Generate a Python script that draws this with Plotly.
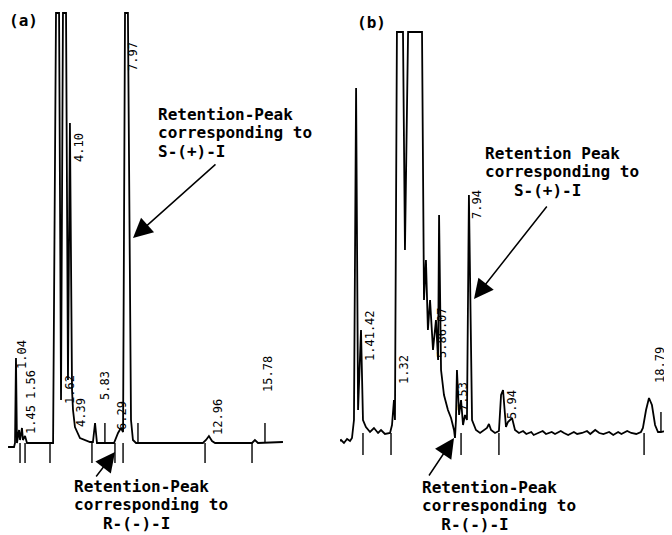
import plotly.graph_objects as go

# ---------------- data: chromatogram (a) ----------------
time_a = [0.62, 0.99, 1.05, 1.11, 1.17, 1.30, 1.36, 1.48, 1.54, 1.67, 1.79, 3.40,
          3.58, 3.77, 3.89, 4.01, 4.20, 4.32, 4.44, 4.57, 4.63, 4.75, 5.06, 5.68,
          5.86, 5.99, 6.11, 7.16, 7.41, 7.59, 7.72, 7.84, 8.02, 8.21, 8.33, 8.52,
          12.65, 12.84, 13.02, 13.21, 13.40, 15.68, 15.86, 16.05, 17.59]
signal_a = [-4, -4, 0, 85, 0, 13, 3, 15, 3, 7, 0, 0,
            430, 430, 43, 430, 430, 63, 320, 53, 33, 16, 5, 1,
            1, 20, 0, 0, 10, 15, 11, 430, 430, 23, 3, 0,
            0, 3, 7, 2, 0, 0, 3, 0, 1]
ticks_a = [1.36, 1.67, 3.21, 5.80, 7.22, 7.72, 12.78, 15.68]
markers_a = [6.60, 8.64, 16.48]

# ---------------- data: chromatogram (b) ----------------
time_b = [-0.18, 0.00, 0.18, 0.37, 0.55, 0.67, 0.79, 0.92, 1.04, 1.22, 1.34, 1.46,
          1.52, 1.77, 2.01, 2.26, 2.44, 2.68, 2.99, 3.11, 3.23, 3.29, 3.41, 3.78,
          3.90, 4.09, 4.94, 5.06, 5.18, 5.30, 5.43, 5.61, 5.79, 5.92, 5.98, 6.10,
          6.28, 6.52, 6.71, 6.89, 6.95, 7.01, 7.07, 7.20, 7.32, 7.44, 7.56, 7.68,
          7.80, 7.99, 8.23, 8.48, 8.72, 8.90, 9.02, 9.15, 9.39, 9.63, 9.76, 9.88,
          10.06, 10.18, 10.43, 10.61, 10.85,
          11.10, 11.30, 11.60, 11.75, 12.05, 12.30, 12.50, 12.85, 13.05, 13.40,
          13.60, 13.85, 14.20, 14.40, 14.70, 15.00, 15.20, 15.50, 15.75, 16.00,
          16.35, 16.60, 16.90, 17.10, 17.45, 17.70, 18.00,
          18.29, 18.41, 18.60, 18.78, 18.96, 19.15, 19.33, 19.51, 19.76, 20.12]
signal_b = [-9, -7, -10, -6, -8, -5, 13, 345, 23, 103, 13, 8,
            6, 1, 5, 0, 3, -1, 0, 8, 33, 13, 401, 401,
            183, 401, 401, 133, 173, 103, 133, 83, 113, 73, 218, 63,
            38, 23, 15, 3, -5, 13, 63, 18, 33, 8, 18, 13,
            238, 13, 3, 0, 3, 5, 9, 3, 0, 2, 38, 43,
            6, 11, 15, 3, 0,
            2, -1, 1, -2, 0, 2, -1, 1, -1, 2,
            0, -2, 1, -1, 0, 2, -1, 3, 0, -1,
            1, -2, 1, -1, 2, 0, -1,
            1, 5, 23, 35, 28, 8, 1, 1, 2, 3]
ticks_b = [1.34, 3.05, 7.32, 9.63, 18.48]
markers_b = [19.51]

# retention-time labels printed by the integrator
labels_a = ["1.04", "1.56", "1.45", "1.62", "4.10", "4.39", "5.83", "6.29", "7.97", "12.96", "15.78"]
labels_b = ["1.41.42", "1.32", "5.86.07", "7.53", "7.94", "5.94", "18.79"]

# ---------------- layout helpers ----------------
OFF = 8                      # default page margin of the html body
W, H = 672 - OFF, 535 - OFF  # figure size so that it fits the window
label_pos_a = [(22, 354), (31, 385), (31, 420), (70, 390), (79, 148), (81, 413),
               (105, 386), (122, 416), (133, 57), (218, 417), (268, 374)]
label_pos_b = [(370, 336), (404, 370), (442, 333), (463, 397), (477, 205), (512, 405), (660, 365)]


def P(px, py):
    return (px - OFF) / W, 1 - (py - OFF) / H


def seg_trace(times, lo, hi, xa, ya):
    xs, ys = [], []
    for t in times:
        xs += [t, t, None]
        ys += [lo, hi, None]
    return go.Scatter(x=xs, y=ys, mode="lines", xaxis=xa, yaxis=ya,
                      line=dict(color="black", width=1.4), hoverinfo="skip", showlegend=False)


fig = go.Figure()
fig.add_trace(go.Scatter(x=time_a, y=signal_a, mode="lines", xaxis="x", yaxis="y",
                         line=dict(color="black", width=1.8), showlegend=False))
fig.add_trace(seg_trace(ticks_a, -20, 0, "x", "y"))
fig.add_trace(seg_trace(markers_a, 0, 20, "x", "y"))
fig.add_trace(go.Scatter(x=time_b, y=signal_b, mode="lines", xaxis="x2", yaxis="y2",
                         line=dict(color="black", width=1.8), showlegend=False))
fig.add_trace(seg_trace(ticks_b, -22, 0, "x2", "y2"))
fig.add_trace(seg_trace(markers_b, 1, 21, "x2", "y2"))

MONO = "DejaVu Sans Mono"
ann = []

for txt, (px, py) in zip(labels_a + labels_b, label_pos_a + label_pos_b):
    x, y = P(px, py)
    ann.append(dict(x=x, y=y, xref="paper", yref="paper", text=txt, showarrow=False,
                    textangle=-90, font=dict(family=MONO, size=12, color="black"),
                    xanchor="center", yanchor="middle", borderpad=0))

# panel tags
for txt, (px, py) in [("(a)", (23, 21)), ("(b)", (371, 22))]:
    x, y = P(px, py)
    ann.append(dict(x=x, y=y, xref="paper", yref="paper", text="<b>%s</b>" % txt, showarrow=False,
                    font=dict(family=MONO, size=16, color="black"), xanchor="center", yanchor="middle"))

# callout text blocks (left x, first line y, lines)
STEP = 18.5
blocks = [
    (157, 114, ["Retention-Peak", "corresponding to", "S-(+)-I"]),
    (73, 486, ["Retention-Peak", "corresponding to", "   R-(-)-I"]),
    (484, 153, ["Retention Peak", "corresponding to", "   S-(+)-I"]),
    (421, 487, ["Retention-Peak", "corresponding to", "  R-(-)-I"]),
]
for lx, ly, lines in blocks:
    for i, line in enumerate(lines):
        x, y = P(lx, ly + STEP * i)
        ann.append(dict(x=x, y=y, xref="paper", yref="paper", text="<b>%s</b>" % line.replace(" ", "&nbsp;"),
                        showarrow=False, font=dict(family=MONO, size=16, color="black"),
                        xanchor="left", yanchor="middle", borderpad=0))

# arrows (tip, tail) in pixels
arrows = [((133, 238), (217, 163)), ((115, 452), (95, 478)),
          ((474, 299), (548, 205)), ((454, 438), (428, 477))]
for (tx, ty), (sx, sy) in arrows:
    x, y = P(tx, ty)
    ann.append(dict(x=x, y=y, xref="paper", yref="paper", text="", showarrow=True,
                    ax=sx - tx, ay=sy - ty, arrowhead=2, arrowsize=2.6, arrowwidth=1.5,
                    arrowcolor="black", standoff=0))

# axis ranges chosen so the chart speed is ~16.3 px per minute
axis_off = dict(visible=False, showgrid=False, zeroline=False, fixedrange=True)
fig.update_layout(
    width=W, height=H, margin=dict(l=0, r=0, t=0, b=0),
    paper_bgcolor="white", plot_bgcolor="white", showlegend=False,
    xaxis=dict(domain=[0, 0.5], range=[10 / 16.2, 342 / 16.2], anchor="y", **axis_off),
    yaxis=dict(domain=[0, 1], range=[-92, 435], anchor="x", **axis_off),
    xaxis2=dict(domain=[0.5, 1], range=[-1 / 16.4, 331 / 16.4], anchor="y2", **axis_off),
    yaxis2=dict(domain=[0, 1], range=[-102, 425], anchor="x2", **axis_off),
    annotations=ann,
)
fig.write_html("out.html")
